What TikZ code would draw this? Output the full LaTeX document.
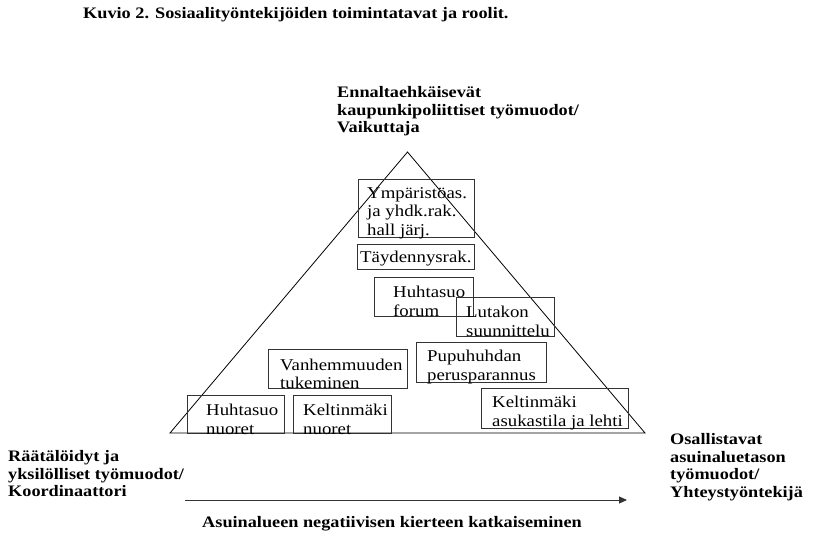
\documentclass[tikz,border=0pt]{standalone}
\usepackage{fontspec}
\setmainfont[FakeStretch=1.14]{Liberation Serif}
\usetikzlibrary{arrows.meta}

\tikzset{
  fbox/.style={draw=black!80, anchor=north west, inner sep=0pt},
  btxt/.style={anchor=west, align=left, inner sep=0pt, yshift=-5pt,
    font=\fontsize{16.5}{18.7}\selectfont},
  lbl/.style={anchor=north west, align=left, inner sep=0pt,
    font=\fontsize{16}{17.7}\selectfont\bfseries}
}

\begin{document}
\begin{tikzpicture}[x=1pt,y=-1pt]
        \useasboundingbox (0,0) rectangle (813,538);
        % otsikko
        \node[lbl] (title) at (83,7) {Kuvio 2. Sosiaalityöntekijöiden toimintatavat ja roolit.};
        % kolmio
        \coordinate (apex) at (407.5,152);
        \coordinate (bl) at (170,433);
        \coordinate (br) at (645,433);
        \draw[black, line width=0.8pt] (apex) -- (bl) -- (br) -- cycle;
        % laatikot
        \node[fbox, minimum width=116pt, minimum height=58pt] (ymp) at (358,179) {};
        \node[fbox, minimum width=117pt, minimum height=25pt] (tayd) at (357,244) {};
        \node[fbox, minimum width=99pt, minimum height=39pt] (hforum) at (374,277) {};
        \node[fbox, minimum width=98pt, minimum height=39pt] (lutakon) at (456,297) {};
        \node[fbox, minimum width=139pt, minimum height=39pt] (vanh) at (268,349) {};
        \node[fbox, minimum width=130pt, minimum height=40pt] (pupu) at (416,342) {};
        \node[fbox, minimum width=147pt, minimum height=40pt] (kasuk) at (481,388) {};
        \node[fbox, minimum width=97pt, minimum height=38pt] (hnuoret) at (187,395) {};
        \node[fbox, minimum width=98pt, minimum height=38pt] (knuoret) at (293,395) {};
        % laatikoiden tekstit
        \node[btxt] (ympT) at ([xshift=9pt]ymp.west) {Ympäristöas.\\ja yhdk.rak.\\hall järj.};
        \node[btxt, yshift=3pt] (taydT) at ([xshift=3pt]tayd.west) {Täydennysrak.};
        \node[btxt] (hforumT) at ([xshift=19pt]hforum.west) {Huhtasuo\\forum};
        \node[btxt] (lutakonT) at ([xshift=10pt]lutakon.west) {Lutakon\\suunnittelu};
        \node[btxt] (vanhT) at ([xshift=12pt]vanh.west) {Vanhemmuuden\\tukeminen};
        \node[btxt] (pupuT) at ([xshift=11pt]pupu.west) {Pupuhuhdan\\perusparannus};
        \node[btxt] (kasukT) at ([xshift=11pt]kasuk.west) {Keltinmäki\\asukastila ja lehti};
        \node[btxt] (hnuoretT) at ([xshift=19pt]hnuoret.west) {Huhtasuo\\nuoret};
        \node[btxt] (knuoretT) at ([xshift=10pt]knuoret.west) {Keltinmäki\\nuoret};
        % tekstit
        \node[lbl] (vaik) at (337,86) {Ennaltaehkäisevät\\kaupunkipoliittiset työmuodot/\\Vaikuttaja};
        \node[lbl] (koord) at (8,450) {Räätälöidyt ja\\yksilölliset työmuodot/\\Koordinaattori};
        \node[lbl] (yht) at (670,433) {Osallistavat\\asuinaluetason\\työmuodot/\\Yhteystyöntekijä};
        \node[lbl, anchor=center] (katk) at (392,524) {Asuinalueen negatiivisen kierteen katkaiseminen};
        % nuoli
        \coordinate (nS) at (185,500);
        \coordinate (nE) at (627,500);
        \draw[black!80, line width=1pt, -{Triangle[length=8pt,width=7pt]}] (nS) -- (nE);
\end{tikzpicture}
\end{document}
